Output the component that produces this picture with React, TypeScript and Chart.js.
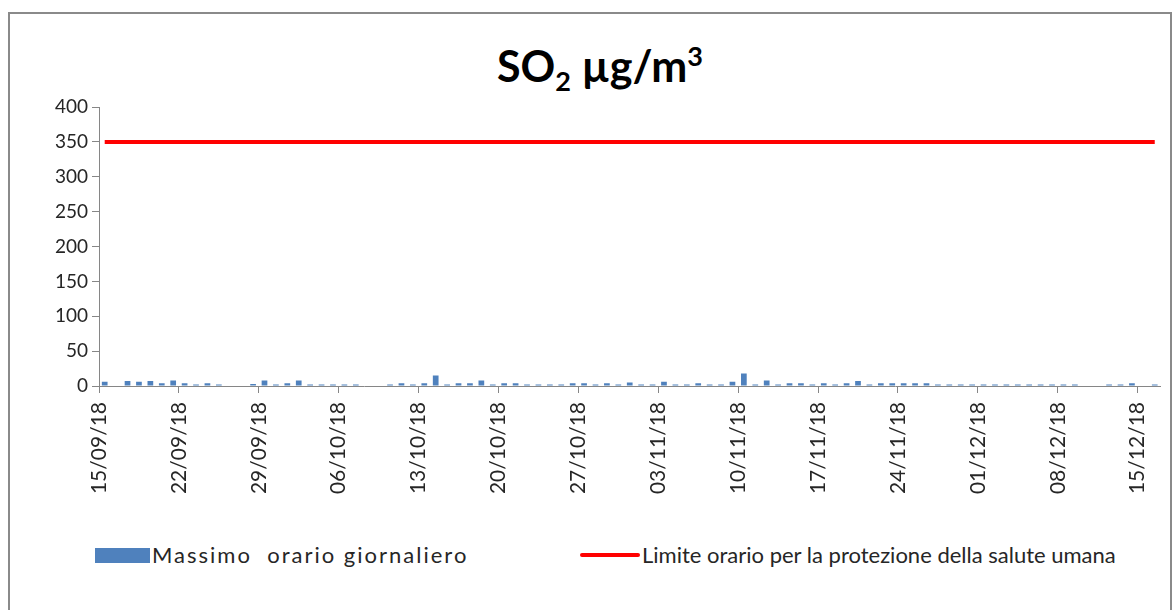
import React, { useEffect, useRef } from "react";
import { Chart, registerables } from "chart.js";

Chart.register(...registerables);

const dates = [
  "15/09/18", "16/09/18", "17/09/18", "18/09/18", "19/09/18", "20/09/18", "21/09/18", "22/09/18",
  "23/09/18", "24/09/18", "25/09/18", "26/09/18", "27/09/18", "28/09/18", "29/09/18", "30/09/18",
  "01/10/18", "02/10/18", "03/10/18", "04/10/18", "05/10/18", "06/10/18", "07/10/18", "08/10/18",
  "09/10/18", "10/10/18", "11/10/18", "12/10/18", "13/10/18", "14/10/18", "15/10/18", "16/10/18",
  "17/10/18", "18/10/18", "19/10/18", "20/10/18", "21/10/18", "22/10/18", "23/10/18", "24/10/18",
  "25/10/18", "26/10/18", "27/10/18", "28/10/18", "29/10/18", "30/10/18", "31/10/18",
  "01/11/18", "02/11/18", "03/11/18", "04/11/18", "05/11/18", "06/11/18", "07/11/18", "08/11/18",
  "09/11/18", "10/11/18", "11/11/18", "12/11/18", "13/11/18", "14/11/18", "15/11/18", "16/11/18",
  "17/11/18", "18/11/18", "19/11/18", "20/11/18", "21/11/18", "22/11/18", "23/11/18", "24/11/18",
  "25/11/18", "26/11/18", "27/11/18", "28/11/18", "29/11/18", "30/11/18",
  "01/12/18", "02/12/18", "03/12/18", "04/12/18", "05/12/18", "06/12/18", "07/12/18", "08/12/18",
  "09/12/18", "10/12/18", "11/12/18", "12/12/18", "13/12/18", "14/12/18", "15/12/18", "16/12/18",
];

// Massimo orario giornaliero (µg/m³)
const massimo: (number | null)[] = [
  6, null, 7, 6, 7, 4, 8, 4, 2, 4, 2, null, null, 3, 8, 2,
  4, 8, 2, 2, 2, 2, 2, null, null, 2, 4, 2, 4, 15, 2, 4,
  4, 8, 2, 4, 4, 2, 2, 2, 2, 4, 4, 2, 4, 2, 5,
  2, 2, 6, 2, 2, 4, 2, 2, 6, 18, 2, 8, 2, 4, 4, 2,
  4, 2, 4, 7, 2, 4, 4, 4, 4, 4, 2, 2, 2, 2,
  2, 2, 2, 2, 2, 2, 2, 2, 2, null, null, 2, 2, 4, null, 2,
];

// Limite orario per la protezione della salute umana (µg/m³)
const limite = [
  350, 350, 350, 350, 350, 350, 350, 350, 350, 350, 350, 350, 350, 350, 350, 350,
  350, 350, 350, 350, 350, 350, 350, 350, 350, 350, 350, 350, 350, 350, 350, 350,
  350, 350, 350, 350, 350, 350, 350, 350, 350, 350, 350, 350, 350, 350, 350,
  350, 350, 350, 350, 350, 350, 350, 350, 350, 350, 350, 350, 350, 350, 350, 350,
  350, 350, 350, 350, 350, 350, 350, 350, 350, 350, 350, 350, 350, 350,
  350, 350, 350, 350, 350, 350, 350, 350, 350, 350, 350, 350, 350, 350, 350, 350,
];

const yTicks = [0, 50, 100, 150, 200, 250, 300, 350, 400];

const seriesNames = ["Massimo  orario giornaliero", "Limite orario per la protezione della salute umana"];

const FONT = "Lato, 'Noto Sans', sans-serif";
const AXIS = "#868686";
const TEXT = "#262626";
const BLUE = "#4F81BD";
const RED = "#FF0000";

export default function App() {
  const ref = useRef<HTMLCanvasElement | null>(null);

  useEffect(() => {
    if (!ref.current) return;
    const chart = new Chart(ref.current, {
      type: "bar",
      data: {
        labels: dates,
        datasets: [
          {
            type: "line",
            label: seriesNames[1],
            data: limite,
            borderColor: RED,
            backgroundColor: RED,
            borderWidth: 4,
            pointRadius: 0,
            order: 0,
          } as any,
          {
            type: "bar",
            label: seriesNames[0],
            data: massimo,
            backgroundColor: BLUE,
            barPercentage: 0.5,
            categoryPercentage: 1.0,
            order: 1,
          },
        ],
      },
      options: {
        responsive: false,
        animation: false,
        layout: { padding: { top: 93, right: 9, left: 0, bottom: 0 } },
        plugins: {
          legend: { display: false },
          title: { display: false },
          tooltip: { enabled: false },
        },
        scales: {
          x: {
            offset: true,
            grid: {
              offset: true,
              drawOnChartArea: false,
              drawTicks: true,
              tickLength: 7,
              color: (c: any) => (c.index % 7 === 0 ? AXIS : "rgba(0,0,0,0)"),
            },
            border: { display: true, color: AXIS, width: 1 },
            ticks: {
              autoSkip: false,
              minRotation: 90,
              maxRotation: 90,
              labelOffset: -5.7,
              padding: 9,
              color: TEXT,
              font: { family: FONT, size: 21 },
              callback: (_v: any, i: number) => (i % 7 === 0 ? dates[i] : ""),
            },
            afterFit: (s: any) => {
              s.height = 138;
            },
          },
          y: {
            min: 0,
            max: 400,
            afterBuildTicks: (s: any) => {
              s.ticks = yTicks.map((v) => ({ value: v }));
            },
            ticks: {
              padding: 4,
              color: TEXT,
              font: { family: FONT, size: 19 },
            },
            grid: { drawOnChartArea: false, tickLength: 7, color: AXIS },
            border: { display: true, color: AXIS, width: 1 },
            afterFit: (s: any) => {
              s.width = 89;
            },
          },
        },
      },
    });
    return () => chart.destroy();
  }, []);

  return (
    <div style={{ position: "fixed", left: 0, top: 0, width: 1175, height: 610, overflow: "hidden", background: "#fff", fontFamily: FONT }}>
      <div style={{ position: "absolute", left: 8, top: 12, width: 1160, height: 640, border: "2px solid #8a8a8a" }} />
      <div
        style={{
          position: "absolute",
          left: 10,
          top: 39,
          width: 1180,
          textAlign: "center",
          fontWeight: 700,
          fontSize: 43,
          lineHeight: "54px",
          color: "#000",
          whiteSpace: "nowrap",
        }}
      >
        SO<span style={{ fontSize: 27, position: "relative", top: 9 }}>2</span> µg/m
        <span style={{ fontSize: 27, position: "relative", top: -16 }}>3</span>
      </div>
      <canvas ref={ref} width={1179} height={510} style={{ position: "absolute", left: 10, top: 14, width: 1179, height: 510 }} />
      <div style={{ position: "absolute", left: 95, top: 548, width: 55, height: 15, background: BLUE }} />
      <div style={{ position: "absolute", left: 152, top: 542, fontSize: 22, lineHeight: "26px", letterSpacing: 2, color: TEXT, whiteSpace: "pre" }}>
        {seriesNames[0]}
      </div>
      <div style={{ position: "absolute", left: 580, top: 553, width: 60, height: 4, borderRadius: 2, background: RED }} />
      <div style={{ position: "absolute", left: 642, top: 542, fontSize: 22, lineHeight: "26px", color: TEXT, whiteSpace: "pre" }}>
        {seriesNames[1]}
      </div>
    </div>
  );
}
